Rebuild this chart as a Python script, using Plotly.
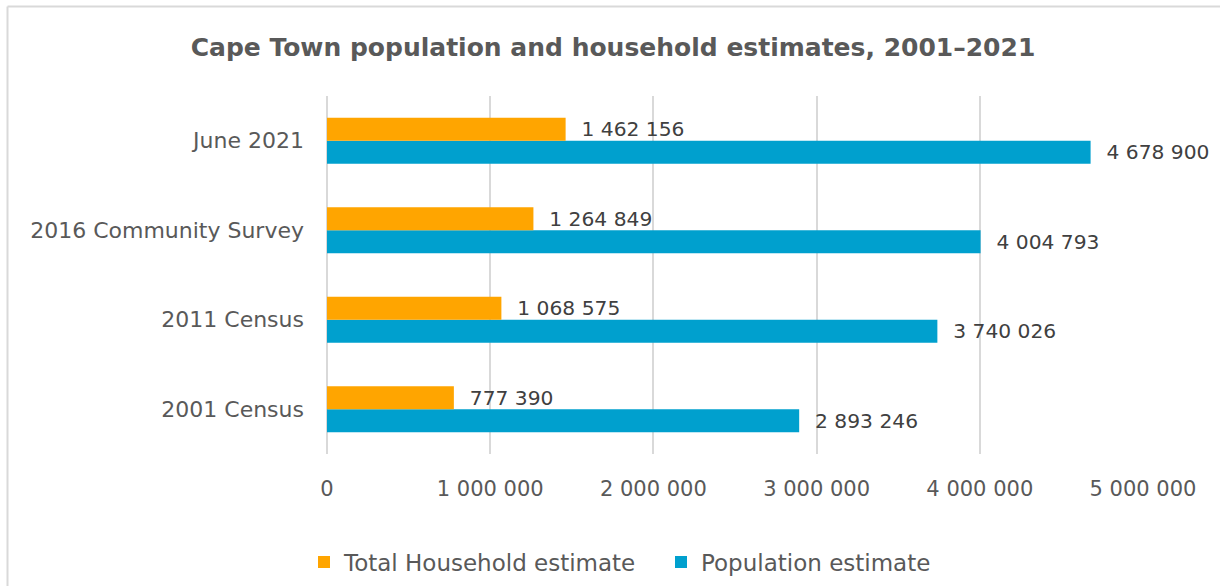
import plotly.graph_objects as go

# Data (bottom to top on the category axis)
categories = ["2001 Census", "2011 Census", "2016 Community Survey", "June 2021"]
households = [777390, 1068575, 1264849, 1462156]
population = [2893246, 3740026, 4004793, 4678900]
x_ticks = [0, 1000000, 2000000, 3000000, 4000000, 5000000]

ORANGE = "#FFA500"
BLUE = "#00A0CE"
GREY_TEXT = "#595959"
LABEL_TEXT = "#404040"
GRID = "#D9D9D9"
FONT = "DejaVu Sans"

W, H = 1220, 586
ML, MR, MT, MB = 327, 77, 96, 132
PW, PH = W - ML - MR, H - MT - MB


def px_to_paper_x(px):
    return (px - ML) / PW


def px_to_paper_y(py):
    return (H - MB - py) / PH


fig = go.Figure()

# Population first so it sits below the household bar in each group
fig.add_trace(go.Bar(
    y=categories, x=population, orientation="h", name="Population estimate",
    marker=dict(color=BLUE, line=dict(width=0)),
    texttemplate="\u00a0\u00a0%{x:,}", textposition="outside",
    textfont=dict(family=FONT, size=22, color=LABEL_TEXT),
    cliponaxis=False, legend="legend2",
))
fig.add_trace(go.Bar(
    y=categories, x=households, orientation="h", name="Total Household estimate",
    marker=dict(color=ORANGE, line=dict(width=0)),
    texttemplate="\u00a0\u00a0%{x:,}", textposition="outside",
    textfont=dict(family=FONT, size=22, color=LABEL_TEXT),
    cliponaxis=False, legend="legend",
))

# Outer chart frame (left and top edges visible)
frame = dict(type="line", xref="paper", yref="paper",
             line=dict(color=GRID, width=2), layer="below")
fig.add_shape(**frame, x0=px_to_paper_x(7.5), x1=px_to_paper_x(7.5),
              y0=px_to_paper_y(600), y1=px_to_paper_y(6.5))
fig.add_shape(**frame, x0=px_to_paper_x(7.5), x1=px_to_paper_x(1230),
              y0=px_to_paper_y(6.5), y1=px_to_paper_y(6.5))

legend_style = dict(
    orientation="h", xref="container", xanchor="left",
    yref="container", y=1 - 562 / H, yanchor="middle",
    font=dict(family=FONT, size=23, color=GREY_TEXT),
    bgcolor="rgba(0,0,0,0)",
)

fig.update_layout(
    width=W, height=H,
    margin=dict(l=ML, r=MR, t=MT, b=MB, autoexpand=False),
    paper_bgcolor="white", plot_bgcolor="white",
    separators=". ",
    barmode="group", bargap=0.486, bargroupgap=0,
    font=dict(family=FONT, color=GREY_TEXT),
    title=dict(
        text="<b>Cape Town population and household estimates, 2001\u20132021</b>",
        x=613 / W, xref="container", xanchor="center",
        y=1 - 47 / H, yref="container", yanchor="middle",
        font=dict(family=FONT, size=25, color=GREY_TEXT),
    ),
    xaxis=dict(
        range=[0, 5000000], tickvals=x_ticks, tickformat=",",
        showgrid=True, gridcolor=GRID, gridwidth=1.5,
        zeroline=True, zerolinecolor=GRID, zerolinewidth=1.5,
        showline=False, ticks="",
        tickfont=dict(family=FONT, size=21, color=GREY_TEXT),
        ticklabelstandoff=20,
    ),
    yaxis=dict(
        categoryorder="array", categoryarray=categories,
        showgrid=False, showline=False, ticks="",
        tickfont=dict(family=FONT, size=22, color=GREY_TEXT),
        ticklabelstandoff=22,
    ),
    legend=dict(**legend_style, x=(345 - 41) / W),
    legend2=dict(**legend_style, x=(702 - 41) / W),
    showlegend=True,
)

fig.write_html("out.html")
